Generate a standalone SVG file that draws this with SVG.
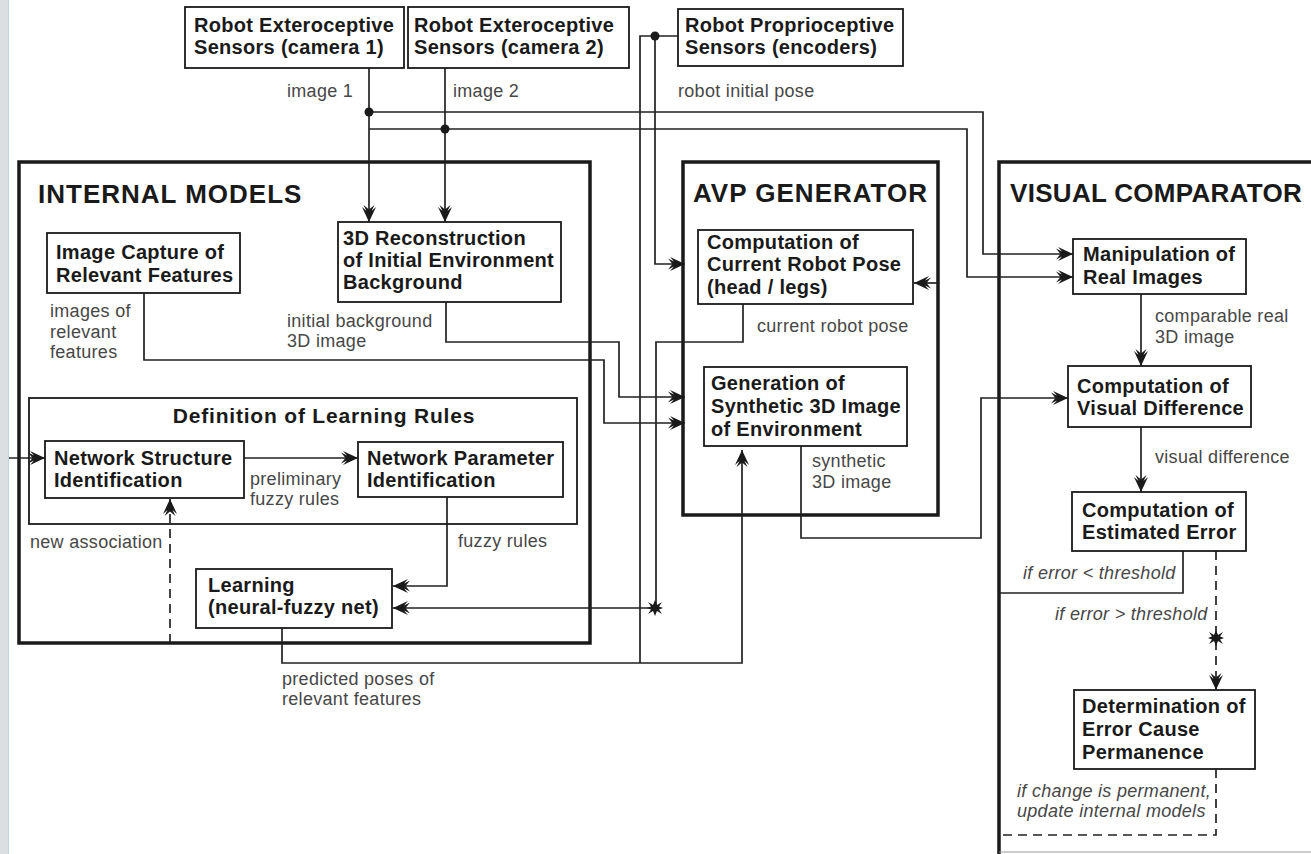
<svg xmlns="http://www.w3.org/2000/svg" width="1311" height="854" viewBox="0 0 1311 854">
<style>
.bg{fill:#ffffff}
.frame{fill:none;stroke:#1a1a1a;stroke-width:3.5}
.box{fill:#ffffff;stroke:#1a1a1a;stroke-width:1.8}
.t{font-family:"Liberation Sans",Arial,sans-serif;font-weight:bold;font-size:20px;letter-spacing:0.3px;fill:#1a1a1a}
.h{font-family:"Liberation Sans",Arial,sans-serif;font-weight:bold;font-size:26px;letter-spacing:1px;fill:#1a1a1a}
.st{font-family:"Liberation Sans",Arial,sans-serif;font-weight:bold;font-size:21px;letter-spacing:0.8px;fill:#1a1a1a}
.l{font-family:"Liberation Sans",Arial,sans-serif;font-size:18px;letter-spacing:0.3px;fill:#474747}
.li{font-family:"Liberation Sans",Arial,sans-serif;font-style:italic;font-size:18px;letter-spacing:0.3px;fill:#474747}
.c{fill:none;stroke:#222;stroke-width:1.7}
.a{marker-end:url(#arr)}
.d{stroke-dasharray:9 6}
.dot{fill:#1a1a1a}
</style>
<defs>
<marker id="arr" markerUnits="userSpaceOnUse" markerWidth="20" markerHeight="18" viewBox="-18 -9 20 18" refX="0" refY="0" orient="auto">
<path d="M0,0 L-15,-7 L-11,-2.5 L-17,-5.5 L-12.5,0 L-17,5.5 L-11,2.5 L-15,7 Z" fill="#1a1a1a"/>
</marker>
<polygon id="star" points="0,-8 2,-3 7,-6 4,-1.5 8,0 4,1.5 7,6 2,3 0,8 -2,3 -7,6 -4,1.5 -8,0 -4,-1.5 -7,-6 -2,-3" fill="#1a1a1a"/>
</defs>
<rect class="bg" x="0" y="0" width="1311" height="854"/>
<rect x="0" y="0" width="8" height="854" fill="#dcdfe2"/>
<line x1="8.5" y1="0" x2="8.5" y2="854" stroke="#bcd6e6" stroke-width="1"/>

<g id="internal-models">
<rect class="frame" x="19" y="162" width="571" height="481"/>
<text class="h" x="38" y="203">INTERNAL MODELS</text>
</g>
<g id="avp-generator">
<rect class="frame" x="683" y="162" width="255" height="353"/>
<text class="h" x="693" y="202">AVP GENERATOR</text>
</g>
<g id="visual-comparator">
<path class="frame" d="M1313,162 H999 V856"/>
<line x1="999" y1="852" x2="1311" y2="852" stroke="#999" stroke-width="1"/>
<text class="h" x="1010" y="202" style="letter-spacing:0.3px">VISUAL COMPARATOR</text>
</g>

<g id="connectors">
<path class="c a" d="M369,68 V222"/>
<path class="c a" d="M445,68 V222"/>
<path class="c a" d="M369,112 H983 V254 H1073"/>
<path class="c a" d="M369,129 H967 V277 H1073"/>
<path class="c" d="M678,36 H640 V663"/>
<path class="c a" d="M655,36 V264 H685"/>
<path class="c a" d="M144,293 V360 H604 V423 H685"/>
<path class="c a" d="M446,302 V342 H619 V397 H685"/>
<path class="c a" d="M244,458 H358"/>
<path class="c a" d="M9,458 H45"/>
<path class="c a d" d="M170,643 V499"/>
<path class="c a" d="M447,497 V586 H393"/>
<path class="c a" d="M743,304 V342 H656 V608 H393"/>
<path class="c a" d="M282,628 V663 H742 V450"/>
<path class="c a" d="M801,446 V538 H981 V398 H1068"/>
<path class="c a" d="M1141,294 V366"/>
<path class="c a" d="M1141,427 V492"/>
<path class="c" d="M1183,551 V593 H999"/>
<path class="c a d" d="M1216,551 V690"/>
<path class="c d" d="M1216,769 V835 H999"/>
<path class="c a" d="M938,283 H914"/>
<circle class="dot" cx="369" cy="112" r="4.5"/>
<circle class="dot" cx="445" cy="129" r="4.5"/>
<circle class="dot" cx="655" cy="36" r="4.5"/>
<use href="#star" x="655" y="608"/>
<use href="#star" x="1216" y="638"/>
<text class="l" x="287" y="97">image 1</text>
<text class="l" x="453" y="97">image 2</text>
<text class="l" x="678" y="97">robot initial pose</text>
<text class="l" x="50" y="317">images of</text>
<text class="l" x="50" y="338">relevant</text>
<text class="l" x="50" y="358">features</text>
<text class="l" x="287" y="327">initial background</text>
<text class="l" x="287" y="347">3D image</text>
<text class="l" x="757" y="332">current robot pose</text>
<text class="l" x="250" y="485">preliminary</text>
<text class="l" x="250" y="505">fuzzy rules</text>
<text class="l" x="30" y="548">new association</text>
<text class="l" x="458" y="547">fuzzy rules</text>
<text class="l" x="812" y="467">synthetic</text>
<text class="l" x="812" y="488">3D image</text>
<text class="l" x="1155" y="322">comparable real</text>
<text class="l" x="1155" y="343">3D image</text>
<text class="l" x="1155" y="463">visual difference</text>
<text class="l" x="282" y="685">predicted poses of</text>
<text class="l" x="282" y="705">relevant features</text>
<text class="li" x="1023" y="579">if error &lt; threshold</text>
<text class="li" x="1055" y="620">if error &gt; threshold</text>
<text class="li" x="1017" y="797">if change is permanent,</text>
<text class="li" x="1017" y="817">update internal models</text>
</g>

<g id="camera1">
<rect class="box" x="185" y="7" width="219" height="61"/>
<text class="t" x="194" y="32">Robot Exteroceptive</text>
<text class="t" x="194" y="54">Sensors (camera 1)</text>
</g>
<g id="camera2">
<rect class="box" x="408" y="7" width="221" height="61"/>
<text class="t" x="414" y="32">Robot Exteroceptive</text>
<text class="t" x="414" y="54">Sensors (camera 2)</text>
</g>
<g id="proprio">
<rect class="box" x="678" y="9" width="225" height="57"/>
<text class="t" x="685" y="32">Robot Proprioceptive</text>
<text class="t" x="685" y="54">Sensors (encoders)</text>
</g>
<g id="image-capture">
<rect class="box" x="47" y="233" width="193" height="60"/>
<text class="t" x="56" y="259">Image Capture of</text>
<text class="t" x="56" y="282">Relevant Features</text>
</g>
<g id="reconstruction">
<rect class="box" x="338" y="222" width="223" height="80"/>
<text class="t" x="343" y="245">3D Reconstruction</text>
<text class="t" x="343" y="267">of Initial Environment</text>
<text class="t" x="343" y="289">Background</text>
</g>
<g id="learning-rules">
<rect fill="none" stroke="#1a1a1a" stroke-width="1.8" x="29" y="398" width="548" height="126"/>
<text class="st" x="324" y="423" text-anchor="middle">Definition of Learning Rules</text>
</g>
<g id="net-structure">
<rect class="box" x="45" y="441" width="199" height="57"/>
<text class="t" x="54" y="465">Network Structure</text>
<text class="t" x="54" y="487">Identification</text>
</g>
<g id="net-parameter">
<rect class="box" x="358" y="442" width="205" height="55"/>
<text class="t" x="367" y="465">Network Parameter</text>
<text class="t" x="367" y="487">Identification</text>
</g>
<g id="learning">
<rect class="box" x="196" y="569" width="196" height="59"/>
<text class="t" x="208" y="592">Learning</text>
<text class="t" x="208" y="614">(neural-fuzzy net)</text>
</g>
<g id="robot-pose">
<rect class="box" x="698" y="230" width="215" height="74"/>
<text class="t" x="707" y="249">Computation of</text>
<text class="t" x="707" y="271">Current Robot Pose</text>
<text class="t" x="707" y="294">(head / legs)</text>
</g>
<g id="synthetic">
<rect class="box" x="704" y="367" width="203" height="79"/>
<text class="t" x="711" y="390">Generation of</text>
<text class="t" x="711" y="413">Synthetic 3D Image</text>
<text class="t" x="711" y="436">of Environment</text>
</g>
<g id="manipulation">
<rect class="box" x="1073" y="239" width="173" height="55"/>
<text class="t" x="1083" y="261">Manipulation of</text>
<text class="t" x="1083" y="284">Real Images</text>
</g>
<g id="visual-difference">
<rect class="box" x="1068" y="366" width="183" height="61"/>
<text class="t" x="1077" y="393">Computation of</text>
<text class="t" x="1077" y="415">Visual Difference</text>
</g>
<g id="estimated-error">
<rect class="box" x="1072" y="492" width="174" height="59"/>
<text class="t" x="1082" y="517">Computation of</text>
<text class="t" x="1082" y="539">Estimated Error</text>
</g>
<g id="error-cause">
<rect class="box" x="1074" y="690" width="181" height="79"/>
<text class="t" x="1082" y="713">Determination of</text>
<text class="t" x="1082" y="736">Error Cause</text>
<text class="t" x="1082" y="759">Permanence</text>
</g>
</svg>
